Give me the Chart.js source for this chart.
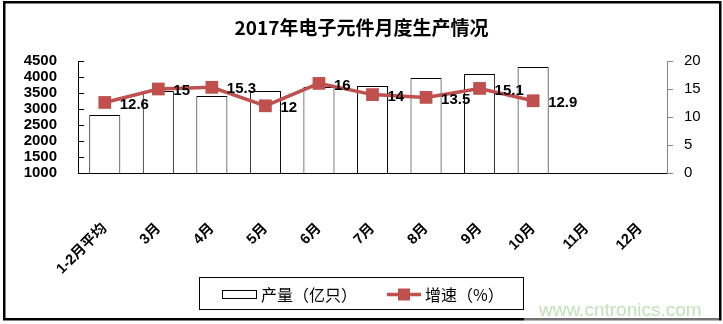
<!DOCTYPE html>
<html>
<head>
<meta charset="utf-8">
<script src="https://cdn.jsdelivr.net/npm/chart.js@4.4.1/dist/chart.umd.min.js"></script>
<style>
  html, body { margin: 0; padding: 0; background: #fff; }
  #c { display: block; }
</style>
</head>
<body>
<canvas id="c" width="723" height="324"></canvas>
<script>
// ---- data ----
const chartTitle = '2017年电子元件月度生产情况';
const categories = ['1-2月平均', '3月', '4月', '5月', '6月', '7月', '8月', '9月', '10月', '11月', '12月'];
const seriesNames = ['产量（亿只）', '增速（%）'];
const outputValues = [2810, 3560, 3410, 3560, 3690, 3720, 3970, 4090, 4310, null, null];   // 亿只
const growthValues = [12.6, 15, 15.3, 12, 16, 14, 13.5, 15.1, 12.9, null, null];          // %
const outputAxis = [1000, 4500, 500];   // min, max, step
const growthAxis = [0, 20, 5];          // min, max, step
const watermarkText = 'www.cntronics.com';

const RED = '#C0504D';
const CJK = '"Noto Sans CJK SC", "Liberation Sans", sans-serif';

// white page, outer frame and the site mark
const framePlugin = {
  id: 'frame',
  beforeDraw(chart) {
    const ctx = chart.ctx;
    ctx.save();
    ctx.fillStyle = '#fff';
    ctx.fillRect(0, 0, chart.width, chart.height);
    ctx.restore();
  },
  afterDraw(chart) {
    const ctx = chart.ctx;
    ctx.save();
    ctx.strokeStyle = '#000';
    ctx.lineWidth = 2.5;
    ctx.strokeRect(4.25, 2.25, 716, 317);
    ctx.fillStyle = 'rgba(255,255,255,0.45)';
    ctx.fillRect(524, 296, 195, 28);
    ctx.fillStyle = '#bfe3b6';
    ctx.font = '19px "Liberation Sans", Arial, sans-serif';
    ctx.textBaseline = 'alphabetic';
    ctx.textAlign = 'left';
    ctx.fillText(watermarkText, 539, 316);
    ctx.restore();
  }
};

// value labels to the right of each growth point
const valueLabelPlugin = {
  id: 'valueLabels',
  afterDatasetsDraw(chart) {
    const ctx = chart.ctx;
    const meta = chart.getDatasetMeta(1);
    const data = chart.data.datasets[1].data;
    ctx.save();
    ctx.font = 'bold 15px "Liberation Sans", Arial, sans-serif';
    ctx.fillStyle = '#000';
    ctx.textAlign = 'left';
    ctx.textBaseline = 'middle';
    meta.data.forEach((pt, i) => {
      if (data[i] == null) return;
      ctx.fillText(String(data[i]), pt.x + 15, pt.y + 2);
    });
    ctx.restore();
  }
};

// boxed legend under the axis labels
const legendBoxPlugin = {
  id: 'legendBox',
  afterDraw(chart) {
    const ctx = chart.ctx;
    const ds = chart.data.datasets;
    ctx.save();
    ctx.strokeStyle = '#000';
    ctx.lineWidth = 1;
    ctx.strokeRect(199.5, 277.5, 324, 32);
    // bar series swatch
    ctx.fillStyle = ds[0].backgroundColor;
    ctx.fillRect(222.5, 290.5, 34, 8);
    ctx.strokeStyle = ds[0].borderColor;
    ctx.strokeRect(222.5, 290.5, 34, 8);
    // line series swatch
    ctx.strokeStyle = ds[1].borderColor;
    ctx.lineWidth = ds[1].borderWidth;
    ctx.beginPath();
    ctx.moveTo(387, 294.5);
    ctx.lineTo(421, 294.5);
    ctx.stroke();
    ctx.fillStyle = ds[1].pointBackgroundColor;
    ctx.fillRect(398, 288.5, 12, 12);
    // names
    ctx.fillStyle = '#000';
    ctx.font = '16px ' + CJK;
    ctx.textAlign = 'left';
    ctx.textBaseline = 'middle';
    ctx.fillText(ds[0].label, 261, 294.5);
    ctx.fillText(ds[1].label, 425, 294.5);
    ctx.restore();
  }
};

new Chart(document.getElementById('c'), {
  data: {
    labels: categories,
    datasets: [
      {
        type: 'bar',
        label: seriesNames[0],
        data: outputValues,
        yAxisID: 'yOut',
        backgroundColor: '#ffffff',
        borderColor: '#000000',
        borderWidth: 1,
        barPercentage: 0.58,
        categoryPercentage: 1,
        order: 2
      },
      {
        type: 'line',
        label: seriesNames[1],
        data: growthValues,
        yAxisID: 'yRate',
        borderColor: RED,
        borderWidth: 3.5,
        backgroundColor: RED,
        pointBackgroundColor: RED,
        pointBorderColor: RED,
        pointBorderWidth: 0,
        pointStyle: 'rect',
        pointRadius: 9,
        tension: 0,
        spanGaps: false,
        order: 1
      }
    ]
  },
  options: {
    responsive: false,
    animation: false,
    devicePixelRatio: 1,
    layout: { padding: 0 },
    plugins: {
      legend: { display: false },
      tooltip: { enabled: false },
      title: {
        display: true,
        text: chartTitle,
        color: '#000',
        font: { family: CJK, size: 19, weight: 'bold', lineHeight: 1.2 },
        padding: { top: 16.6, bottom: 21.6 }
      }
    },
    scales: {
      x: {
        offset: true,
        grid: { display: false },
        border: { display: true, color: '#000', width: 1 },
        ticks: {
          autoSkip: false,
          maxRotation: 45,
          minRotation: 45,
          padding: 39,
          color: '#000',
          font: { family: '"Liberation Sans", "Noto Sans CJK SC", sans-serif', size: 14.5, weight: 'bold' }
        },
        afterFit(s) { s.height = 151; }
      },
      yOut: {
        type: 'linear',
        position: 'left',
        min: outputAxis[0],
        max: outputAxis[1],
        grid: { display: true, drawOnChartArea: false, drawTicks: true, tickLength: -6, color: '#000' },
        border: { display: true, color: '#000', width: 1 },
        ticks: {
          stepSize: outputAxis[2],
          autoSkip: false,
          padding: 27,
          color: '#000',
          callback: (v) => String(v),
          font: { family: '"Liberation Sans", Arial, sans-serif', size: 15, weight: 'bold', lineHeight: 1 }
        },
        afterFit(s) { s.width = 78; }
      },
      yRate: {
        type: 'linear',
        position: 'right',
        min: growthAxis[0],
        max: growthAxis[1],
        grid: { display: true, drawOnChartArea: false, drawTicks: true, tickLength: 6, color: '#868686' },
        border: { display: true, color: '#868686', width: 1 },
        ticks: {
          stepSize: growthAxis[2],
          autoSkip: false,
          padding: 11,
          color: '#000',
          font: { family: '"Liberation Sans", Arial, sans-serif', size: 15 }
        },
        afterFit(s) { s.width = 56; }
      }
    }
  },
  plugins: [framePlugin, valueLabelPlugin, legendBoxPlugin]
});
</script>
</body>
</html>
